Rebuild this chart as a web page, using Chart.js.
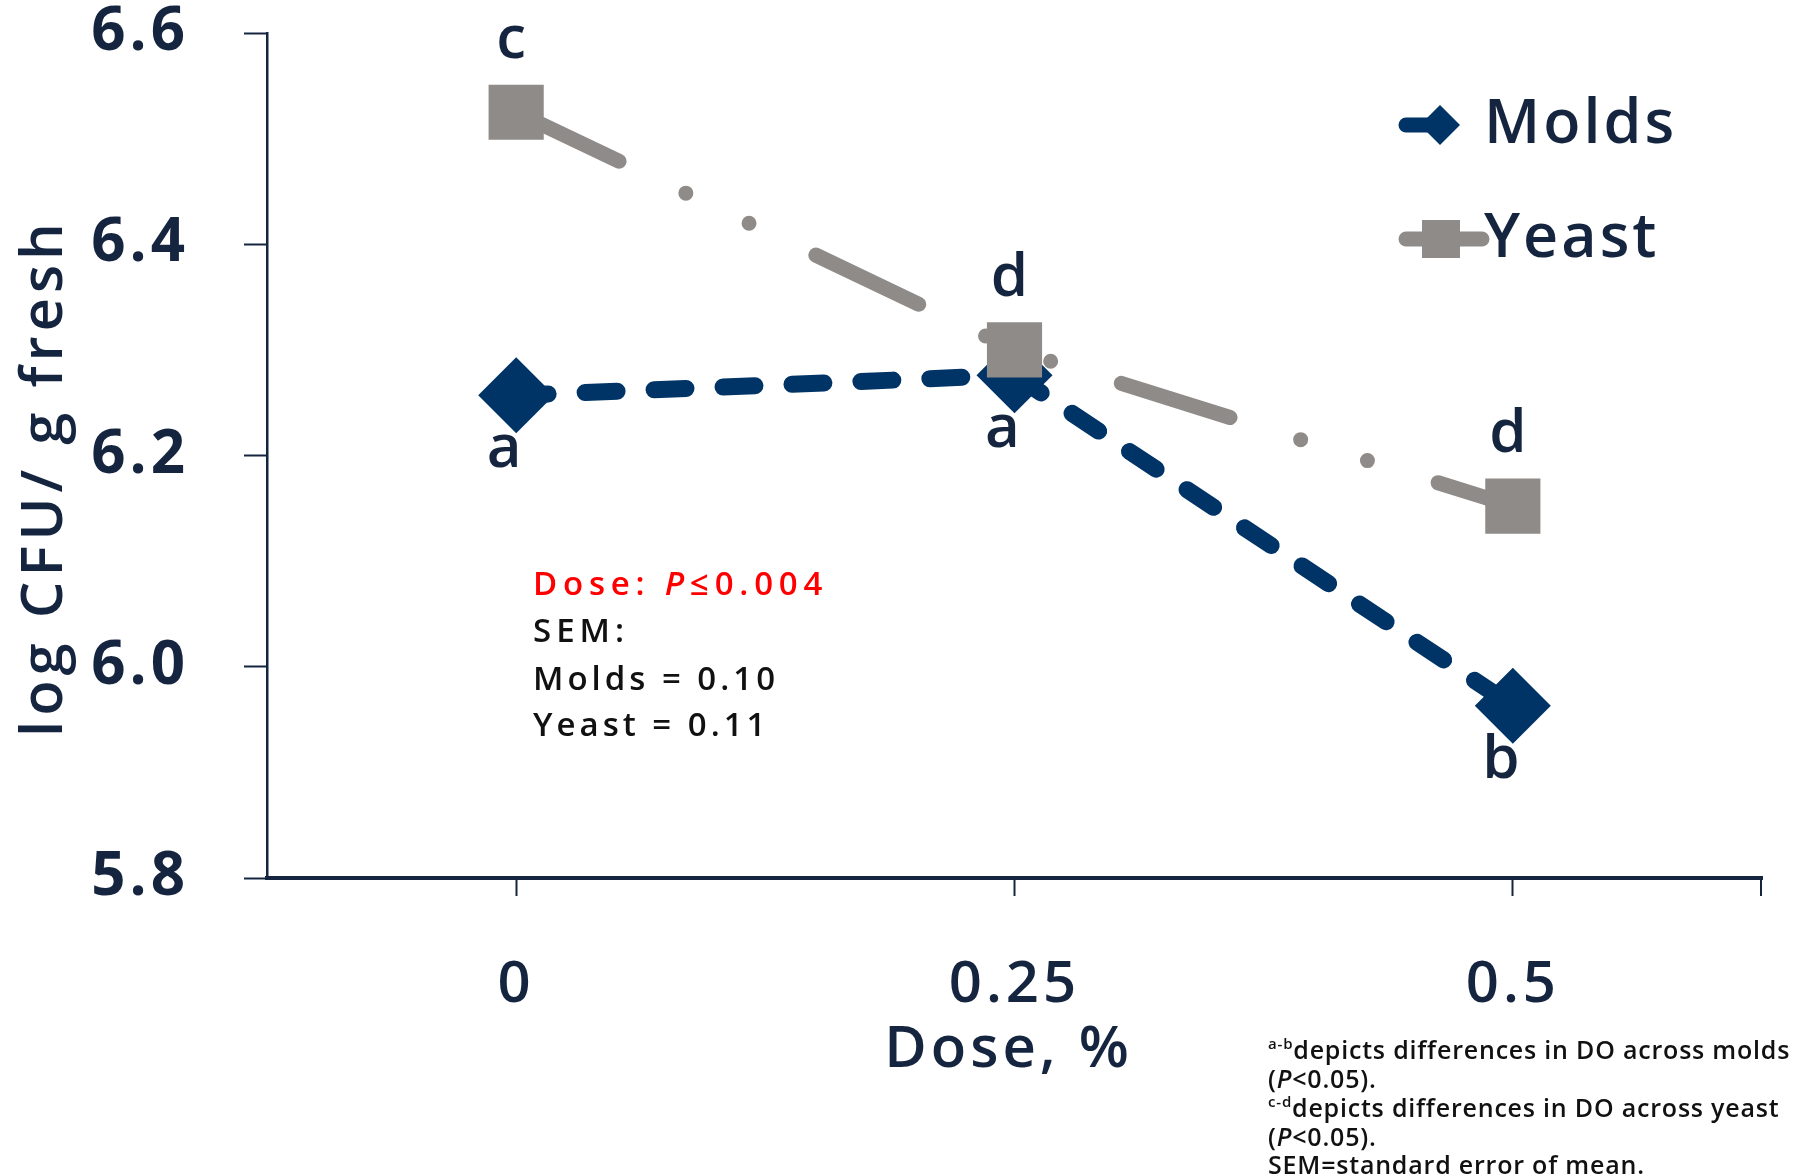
<!DOCTYPE html>
<html>
<head>
<meta charset="utf-8">
<title>Molds and yeast by dose</title>
<script src="https://cdn.jsdelivr.net/npm/chart.js@4/dist/chart.umd.min.js"></script>
<style>
  html, body { margin: 0; padding: 0; background: #fff; }
  #wrap { width: 1806px; height: 1176px; }
</style>
</head>
<body>
<div id="wrap"><canvas id="doseChart" width="1806" height="1176"></canvas></div>
<script>
// dose levels and mean counts (log CFU / g fresh)
const doses = ['0', '0.25', '0.5'];
const molds = [6.257, 6.276, 5.963];
const yeast = [6.525, 6.300, 6.152];
// mean separation letters
const moldsLetters = ['a', 'a', 'b'];
const yeastLetters = ['c', 'd', 'd'];
const yTicks = [5.8, 6.0, 6.2, 6.4, 6.6];

const NAVY = '#003366';
const GREY = '#8f8b88';
const INK = '#15253f';
const FONT = "'Open Sans', 'Noto Sans', sans-serif";

// draws a row of text pieces one after the other
function drawRuns(ctx, parts, x, y, spacing) {
    ctx.save();
    ctx.letterSpacing = spacing + 'px';
    ctx.textAlign = 'left';
    ctx.textBaseline = 'alphabetic';
    let cx = x;
    for (const p of parts) {
        ctx.font = p.font;
        ctx.fillStyle = p.color;
        ctx.fillText(p.text, cx, y + (p.dy || 0));
        cx += ctx.measureText(p.text).width;
    }
    ctx.restore();
}

const extras = {
    id: 'extras',
    beforeDraw(chart) {
        // wide tracking for the tick labels
        chart.ctx.letterSpacing = '4px';
    },
    afterDraw(chart) {
        const { ctx, scales: { x, y }, chartArea } = chart;
        ctx.save();

        // extra tick at the right end of the x axis
        ctx.strokeStyle = INK;
        ctx.lineWidth = 2;
        ctx.beginPath();
        ctx.moveTo(chartArea.right - 1, chartArea.bottom);
        ctx.lineTo(chartArea.right - 1, chartArea.bottom + 18);
        ctx.stroke();

        // letters over / under the points
        ctx.font = '600 60px ' + FONT;
        ctx.fillStyle = INK;
        ctx.textAlign = 'center';
        ctx.textBaseline = 'alphabetic';
        ctx.letterSpacing = '0px';
        yeastLetters.forEach((l, i) => {
            ctx.fillText(l, x.getPixelForValue(i) - 5, y.getPixelForValue(yeast[i]) - 54);
        });
        moldsLetters.forEach((l, i) => {
            ctx.fillText(l, x.getPixelForValue(i) - 12, y.getPixelForValue(molds[i]) + 72);
        });

        // axis titles
        ctx.letterSpacing = '4px';
        ctx.font = '600 58px ' + FONT;
        ctx.fillText('Dose, %', (chartArea.left + chartArea.right) / 2 - 6, 1067);

        ctx.save();
        ctx.translate(62, (chartArea.top + chartArea.bottom) / 2 + 22);
        ctx.rotate(-Math.PI / 2);
        ctx.letterSpacing = '5px';
        ctx.font = '600 58px ' + FONT;
        ctx.fillText('log CFU/ g fresh', 0, 0);
        ctx.restore();

        // legend
        const lg = [
            { label: 'Molds', color: NAVY, y: 125, lineEnd: 1440, style: 'diamond', textY: 143 },
            { label: 'Yeast', color: GREY, y: 239, lineEnd: 1482, style: 'square', textY: 257 }
        ];
        lg.forEach(item => {
            ctx.strokeStyle = item.color;
            ctx.fillStyle = item.color;
            ctx.lineWidth = 15;
            ctx.lineCap = 'round';
            ctx.beginPath();
            ctx.moveTo(1406, item.y);
            ctx.lineTo(item.lineEnd, item.y);
            ctx.stroke();
            ctx.beginPath();
            if (item.style === 'diamond') {
                const r = 20;
                ctx.moveTo(1440, item.y - r);
                ctx.lineTo(1440 + r, item.y);
                ctx.lineTo(1440, item.y + r);
                ctx.lineTo(1440 - r, item.y);
                ctx.closePath();
            } else {
                ctx.rect(1422, item.y - 19, 38, 38);
            }
            ctx.fill();
            ctx.fillStyle = INK;
            ctx.textAlign = 'left';
            ctx.letterSpacing = '3px';
            ctx.font = '600 61px ' + FONT;
            ctx.fillText(item.label, 1484, item.textY);
        });

        // statistics box
        const red = '#ff0000', black = '#111111';
        const f33 = '600 33px ' + FONT;
        drawRuns(ctx, [
            { text: 'Dose: ', font: f33, color: red },
            { text: 'P', font: 'italic 600 33px ' + FONT, color: red },
            { text: '\u22640.004', font: f33, color: red }
        ], 533, 595, 5.8);
        drawRuns(ctx, [{ text: 'SEM:', font: f33, color: black }], 533, 642, 5);
        drawRuns(ctx, [{ text: 'Molds = 0.10', font: f33, color: black }], 533, 690, 4);
        drawRuns(ctx, [{ text: 'Yeast = 0.11', font: f33, color: black }], 533, 736, 4);

        // footnote
        const f25 = '600 25px ' + FONT;
        const fSup = '600 15px ' + FONT;
        const fIt = 'italic 600 25px ' + FONT;
        const fx = 1268, sp = 0.8;
        drawRuns(ctx, [
            { text: 'a-b', font: fSup, color: black, dy: -10 },
            { text: 'depicts differences in DO across molds', font: f25, color: black }
        ], fx, 1059, sp);
        drawRuns(ctx, [
            { text: '(', font: f25, color: black },
            { text: 'P', font: fIt, color: black },
            { text: '<0.05).', font: f25, color: black }
        ], fx, 1088, sp);
        drawRuns(ctx, [
            { text: 'c-d', font: fSup, color: black, dy: -10 },
            { text: 'depicts differences in DO across yeast', font: f25, color: black }
        ], fx, 1117, sp);
        drawRuns(ctx, [
            { text: '(', font: f25, color: black },
            { text: 'P', font: fIt, color: black },
            { text: '<0.05).', font: f25, color: black }
        ], fx, 1146, sp);
        drawRuns(ctx, [
            { text: 'SEM=standard error of mean.', font: f25, color: black }
        ], fx, 1174, sp);

        ctx.restore();
    }
};

new Chart(document.getElementById('doseChart'), {
    type: 'line',
    data: {
        labels: doses,
        datasets: [
            {
                label: 'Molds',
                data: molds,
                order: 1,
                borderColor: NAVY,
                backgroundColor: NAVY,
                borderWidth: 17,
                borderDash: [32, 37],
                borderCapStyle: 'round',
                borderJoinStyle: 'round',
                // a tiny per-segment offset splits the path, so the dashes restart at every point
                segment: { borderDashOffset: c => c.p0DataIndex * 0.01 },
                pointStyle: 'rectRot',
                pointRadius: 38,
                pointBorderWidth: 0,
                pointBackgroundColor: NAVY,
                tension: 0,
                clip: false
            },
            {
                label: 'Yeast',
                data: yeast,
                order: 0,
                borderColor: GREY,
                backgroundColor: GREY,
                borderWidth: 15,
                borderDash: [114, 74, 0, 70, 0, 74],
                borderCapStyle: 'round',
                borderJoinStyle: 'round',
                pointStyle: 'rect',
                pointRadius: 39,
                pointBorderWidth: 0,
                pointBackgroundColor: GREY,
                tension: 0,
                clip: false
            }
        ]
    },
    options: {
        responsive: false,
        animation: false,
        layout: { autoPadding: false, padding: { top: 33, right: 44, left: 0, bottom: 0 } },
        plugins: {
            legend: { display: false },
            tooltip: { enabled: false }
        },
        scales: {
            x: {
                type: 'category',
                offset: true,
                grid: { drawOnChartArea: false, offset: false, tickLength: 18, tickWidth: 2, tickColor: INK },
                border: { color: INK, width: 4 },
                ticks: {
                    color: INK,
                    padding: 55,
                    maxRotation: 0,
                    font: { family: FONT, size: 58, weight: '600', lineHeight: 1.2 }
                },
                afterFit: s => { s.height = 1176 - 878; }
            },
            y: {
                min: 5.8,
                max: 6.6,
                afterBuildTicks: s => { s.ticks = yTicks.map(v => ({ value: v })); },
                grid: { drawOnChartArea: false, tickLength: 23, tickWidth: 2, tickColor: INK },
                border: { color: INK, width: 2.5 },
                ticks: {
                    color: INK,
                    padding: 55,
                    font: { family: FONT, size: 60, weight: '700', lineHeight: 1 },
                    callback: v => v.toFixed(1)
                },
                afterFit: s => {
                    s.width = 267;
                    // labels may poke out above the axis, keep the plot top fixed
                    s.paddingTop = 0;
                    s.paddingBottom = 0;
                }
            }
        }
    },
    plugins: [extras]
});
</script>
</body>
</html>
